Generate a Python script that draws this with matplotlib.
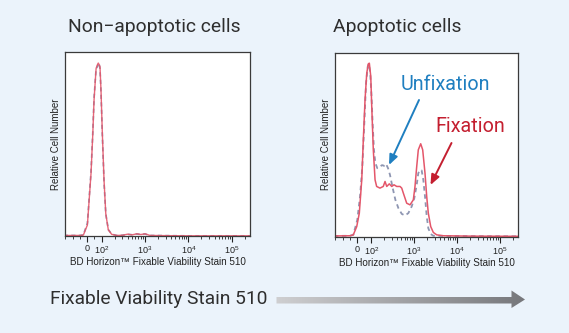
import numpy as np
import matplotlib
matplotlib.use("Agg")
import matplotlib.pyplot as plt
from matplotlib.patches import Polygon
from matplotlib.colors import LinearSegmentedColormap

plt.rcParams["font.family"] = ["Liberation Sans", "DejaVu Sans"]
plt.rcParams["mathtext.fontset"] = "custom"
plt.rcParams["mathtext.rm"] = "Liberation Sans"
plt.rcParams["mathtext.default"] = "regular"

# ---- histogram data (fluorescence intensity, relative count) ----
nonapop_x = [-160, -49, -26, 2, 27, 39, 48, 62, 71, 77, 84, 89, 96, 104, 114, 125,
             143, 171, 223, 300, 400, 500, 650, 800, 1000, 1300, 3000, 10000, 100000, 262143]
nonapop_fix_y = [0.003, 0.003, 0.005, 0.06, 0.34, 0.55, 0.74, 0.91, 0.93, 0.94, 0.93,
                 0.92, 0.79, 0.56, 0.30, 0.12, 0.033, 0.009, 0.003, 0.004, 0.010,
                 0.006, 0.012, 0.008, 0.012, 0.003, 0.002, 0.001, 0.001, 0.001]
nonapop_unfix_y = [0.003, 0.003, 0.006, 0.07, 0.35, 0.56, 0.75, 0.91, 0.92, 0.94, 0.93,
                   0.91, 0.78, 0.55, 0.29, 0.12, 0.035, 0.010, 0.003, 0.004, 0.009,
                   0.007, 0.011, 0.008, 0.011, 0.003, 0.002, 0.001, 0.001, 0.001]

fix_x = [-160, -48, -25, -1, 17, 34, 45, 57, 69, 80, 87, 97, 103, 112, 123, 134, 160,
         191, 210, 230, 264, 301, 340, 393, 469, 514, 560, 671, 802, 957, 1047, 1148,
         1250, 1422, 1582, 1791, 1963, 2138, 2432, 2799, 3357, 4775, 20000, 262143]
fix_y = [0.003, 0.004, 0.009, 0.054, 0.127, 0.308, 0.525, 0.743, 0.888, 0.938, 0.942,
         0.870, 0.707, 0.471, 0.308, 0.272, 0.263, 0.272, 0.299, 0.272, 0.286, 0.272,
         0.281, 0.272, 0.272, 0.263, 0.236, 0.181, 0.172, 0.199, 0.272, 0.380, 0.471,
         0.504, 0.471, 0.344, 0.217, 0.127, 0.054, 0.022, 0.009, 0.004, 0.002, 0.001]

unfix_x = [-160, -48, -25, 3, 22, 38, 52, 64, 76, 83, 92, 101, 108, 116, 125, 139, 160,
           179, 199, 221, 247, 274, 317, 366, 430, 514, 612, 733, 877, 1009, 1148, 1250,
           1371, 1496, 1636, 1791, 1963, 2138, 2432, 2799, 20000, 262143]
unfix_y = [0.003, 0.004, 0.009, 0.091, 0.217, 0.380, 0.616, 0.833, 0.924, 0.938, 0.897,
           0.779, 0.616, 0.471, 0.399, 0.371, 0.380, 0.388, 0.384, 0.395, 0.371, 0.335,
           0.263, 0.199, 0.154, 0.123, 0.114, 0.127, 0.163, 0.208, 0.281, 0.344, 0.362,
           0.359, 0.308, 0.217, 0.109, 0.045, 0.013, 0.004, 0.002, 0.001]

tick_vals = [0, 1e2, 1e3, 1e4, 1e5]
tick_labels = ["0", "$10^2$", "$10^3$", "$10^4$", "$10^5$"]
panel_titles = ["Non\u2212apoptotic cells", "Apoptotic cells"]
xlabel = "BD Horizon\u2122 Fixable Viability Stain 510"
ylabel = "Relative Cell Number"

BG = "#ebf3fb"
RED = "#e4566a"
GREY = "#8e96b2"
W, H = 569, 333
SANS = ["Roboto", "DejaVu Sans"]

fig = plt.figure(figsize=(W / 100, H / 100), dpi=100, facecolor=BG)


def px_axes(l, t, r, b):
    return fig.add_axes([l / W, 1 - b / H, (r - l) / W, (b - t) / H])


minor = ([-150, -100, -50, 50] + [m * 10 ** e for e in range(2, 5) for m in range(2, 10)]
         + [2e5])


def style(ax):
    ax.set_facecolor("white")
    ax.set_xscale("symlog", linthresh=100, linscale=0.3)
    ax.set_xlim(-150, 262143)
    ax.set_ylim(0, 1)
    ax.set_yticks([])
    ax.set_xticks(tick_vals)
    ax.set_xticklabels(tick_labels)
    ax.set_xticks(minor, minor=True)
    ax.tick_params(axis="x", which="major", direction="out", length=4, width=0.8,
                   labelsize=6.5, pad=2, colors="#222222")
    ax.tick_params(axis="x", which="minor", direction="out", length=2, width=0.6,
                   colors="#222222")
    for s in ax.spines.values():
        s.set_color("#3a3a3a")
        s.set_linewidth(0.9)
    ax.set_xlabel(xlabel, fontsize=7.1, labelpad=1, color="#222222")
    ax.set_ylabel(ylabel, fontsize=7.0, labelpad=3, color="#222222")


ax1 = px_axes(65, 52, 250, 236)
style(ax1)
ax1.plot(nonapop_x, nonapop_unfix_y, color=GREY, lw=1.2, ls=(0, (2.5, 2)))
ax1.plot(nonapop_x, nonapop_fix_y, color=RED, lw=1.0, alpha=0.9)

ax2 = px_axes(335, 52.5, 518, 236.5)
style(ax2)
ax2.plot(unfix_x, unfix_y, color=GREY, lw=1.3, ls=(0, (2.5, 2)))
ax2.plot(fix_x, fix_y, color=RED, lw=1.1)

# overlay in pixel coordinates for titles, annotations and bottom arrow
ov = fig.add_axes([0, 0, 1, 1])
ov.set_xlim(0, W)
ov.set_ylim(H, 0)
ov.axis("off")
ov.patch.set_visible(False)

title_kw = dict(fontsize=13.9, family=SANS, weight="normal",
                color="#2e2e2e", ha="center", va="center")
ov.text(154, 27, panel_titles[0], **title_kw)
ov.text(397.5, 27, panel_titles[1], **title_kw)

BLUE = "#1f7fc0"
DRED = "#c41f30"
ov.text(445, 85, "Unfixation", fontsize=14.2, family=SANS,
        color=BLUE, ha="center", va="center")
ov.text(470, 126.5, "Fixation", fontsize=14.2, family=SANS,
        color=DRED, ha="center", va="center")
ov.annotate("", xy=(389, 165), xytext=(419, 100),
            arrowprops=dict(arrowstyle="-|>,head_length=0.6,head_width=0.25",
                            color=BLUE, lw=1.4, shrinkA=0, shrinkB=0))
ov.annotate("", xy=(430.5, 185), xytext=(451.5, 143),
            arrowprops=dict(arrowstyle="-|>,head_length=0.6,head_width=0.25",
                            color=DRED, lw=1.4, shrinkA=0, shrinkB=0))

ov.text(50, 299.5, "Fixable Viability Stain 510", fontsize=13.8,
        family=SANS, color="#2e2e2e", ha="left", va="center")

# gradient arrow
arrow_poly = Polygon([(276.5, 297), (511.5, 297), (511.5, 290.5), (525, 299.5),
                      (511.5, 308), (511.5, 303.5), (276.5, 303.5)], closed=True,
                     transform=ov.transData, facecolor="none", edgecolor="none")
ov.add_patch(arrow_poly)
grad = np.linspace(0, 1, 256)[None, :]
cmap = LinearSegmentedColormap.from_list("g", ["#cfcfd1", "#76777b"])
im = ov.imshow(grad, extent=[276.5, 525, 308, 290.5], cmap=cmap, aspect="auto",
               interpolation="bilinear")
im.set_clip_path(arrow_poly)
ov.set_xlim(0, W)
ov.set_ylim(H, 0)

fig.savefig("out.png", dpi=100, facecolor=BG)
